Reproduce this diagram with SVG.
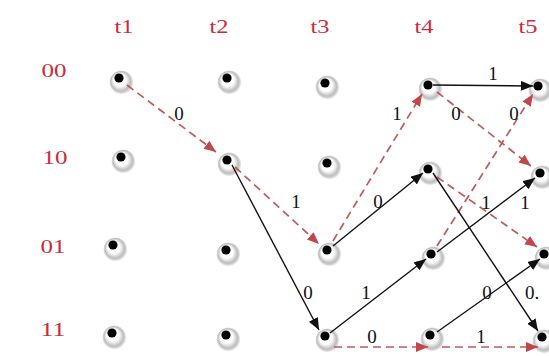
<svg xmlns="http://www.w3.org/2000/svg" width="549" height="356" viewBox="0 0 549 356">
<style>
.lab{font-family:"Liberation Serif","Times New Roman",serif;font-size:19px;fill:#cc2b3b;text-anchor:middle}
.el{font-family:"Liberation Serif","Times New Roman",serif;font-size:19px;fill:#111;text-anchor:middle}
.sol{stroke:#111;stroke-width:1.4;fill:none}
.dash{stroke:#c05a5a;stroke-width:1.7;stroke-dasharray:8 5;fill:none}
.dot{fill:#000}
</style>
<defs>
<radialGradient id="sh" cx="0.5" cy="0.5" r="0.5" fx="0.36" fy="0.3">
<stop offset="0" stop-color="#ffffff"/>
<stop offset="0.5" stop-color="#ffffff"/>
<stop offset="0.78" stop-color="#bdbdbd"/>
<stop offset="0.9" stop-color="#dcdcdc"/>
<stop offset="1" stop-color="#ffffff" stop-opacity="0"/>
</radialGradient>
<marker id="ab" markerUnits="userSpaceOnUse" markerWidth="14" markerHeight="11" refX="12" refY="5" orient="auto">
<path d="M0,0 L12,5 L0,10 z" fill="#111"/>
</marker>
<marker id="ar" markerUnits="userSpaceOnUse" markerWidth="14" markerHeight="11" refX="12" refY="5" orient="auto">
<path d="M0,0 L12,5 L0,10 z" fill="#c0474a"/>
</marker>
<g id="nd">
<circle cx="2.5" cy="4.5" r="12.5" fill="url(#sh)"/>
<circle cx="0" cy="0" r="4.6" class="dot"/>
</g>
</defs>
<rect width="549" height="356" fill="#fff"/>

<g id="labels">
<text class="lab" x="124" y="33" textLength="19" lengthAdjust="spacingAndGlyphs">t1</text>
<text class="lab" x="219" y="33" textLength="19" lengthAdjust="spacingAndGlyphs">t2</text>
<text class="lab" x="320" y="33" textLength="19" lengthAdjust="spacingAndGlyphs">t3</text>
<text class="lab" x="424" y="33" textLength="19" lengthAdjust="spacingAndGlyphs">t4</text>
<text class="lab" x="528" y="33" textLength="19" lengthAdjust="spacingAndGlyphs">t5</text>
<text class="lab" x="54" y="77" textLength="25" lengthAdjust="spacingAndGlyphs">00</text>
<text class="lab" x="55" y="164" textLength="25" lengthAdjust="spacingAndGlyphs">10</text>
<text class="lab" x="53" y="253" textLength="25" lengthAdjust="spacingAndGlyphs">01</text>
<text class="lab" x="53" y="336" textLength="25" lengthAdjust="spacingAndGlyphs">11</text>
</g>

<g id="nodes">
<use id="n1_00" href="#nd" x="119" y="78"/>
<use id="n2_00" href="#nd" x="227" y="78"/>
<use id="n3_00" href="#nd" x="325" y="83"/>
<use id="n4_00" href="#nd" x="428" y="85"/>
<use id="n5_00" href="#nd" x="538" y="86"/>
<use id="n1_10" href="#nd" x="121" y="157"/>
<use id="n2_10" href="#nd" x="227" y="160"/>
<use id="n3_10" href="#nd" x="327" y="163"/>
<use id="n4_10" href="#nd" x="428" y="169"/>
<use id="n5_10" href="#nd" x="540" y="173"/>
<use id="n1_01" href="#nd" x="113" y="245"/>
<use id="n2_01" href="#nd" x="226" y="250"/>
<use id="n3_01" href="#nd" x="327" y="250"/>
<use id="n4_01" href="#nd" x="431" y="254"/>
<use id="n5_01" href="#nd" x="544" y="254"/>
<use id="n1_11" href="#nd" x="112" y="333"/>
<use id="n2_11" href="#nd" x="226" y="335"/>
<use id="n3_11" href="#nd" x="325" y="336"/>
<use id="n4_11" href="#nd" x="430" y="335"/>
<use id="n5_11" href="#nd" x="542" y="337"/>
</g>

<g id="connectors">
<line class="dash" x1="127" y1="85" x2="216" y2="152" marker-end="url(#ar)"/>
<line class="dash" x1="235" y1="167" x2="319" y2="244" marker-end="url(#ar)"/>
<line class="dash" x1="333" y1="241" x2="422" y2="94" marker-end="url(#ar)"/>
<line class="dash" x1="437" y1="92" x2="531" y2="166" marker-end="url(#ar)"/>
<line class="dash" x1="437" y1="246" x2="533" y2="94" marker-end="url(#ar)"/>
<line class="dash" x1="437" y1="177" x2="537" y2="247" marker-end="url(#ar)"/>
<line class="dash" x1="334" y1="347" x2="428" y2="347" marker-end="url(#ar)"/>
<line class="dash" x1="442" y1="347" x2="538" y2="347" marker-end="url(#ar)"/>

<line class="sol" x1="232" y1="165" x2="319" y2="330" marker-end="url(#ab)"/>
<line class="sol" x1="333" y1="246" x2="423" y2="173" marker-end="url(#ab)"/>
<line class="sol" x1="330" y1="333" x2="426" y2="259" marker-end="url(#ab)"/>
<line class="sol" x1="433" y1="85" x2="533" y2="86" marker-end="url(#ab)"/>
<line class="sol" x1="437" y1="252" x2="535" y2="178" marker-end="url(#ab)"/>
<line class="sol" x1="433" y1="173" x2="538" y2="331" marker-end="url(#ab)"/>
<line class="sol" x1="437" y1="332" x2="540" y2="259" marker-end="url(#ab)"/>
</g>

<g id="edge-labels">
<text class="el" x="493" y="80">1</text>
<text class="el" x="179" y="120">0</text>
<text class="el" x="397" y="120">1</text>
<text class="el" x="456" y="120">0</text>
<text class="el" x="514" y="120">0</text>
<text class="el" x="296" y="208">1</text>
<text class="el" x="378" y="208">0</text>
<text class="el" x="486" y="209">1</text>
<text class="el" x="525" y="209">1</text>
<text class="el" x="308" y="299">0</text>
<text class="el" x="366" y="299">1</text>
<text class="el" x="487" y="299">0</text>
<text class="el" x="532" y="299">0.</text>
<text class="el" x="372" y="343">0</text>
<text class="el" x="481" y="343">1</text>
</g>
</svg>
